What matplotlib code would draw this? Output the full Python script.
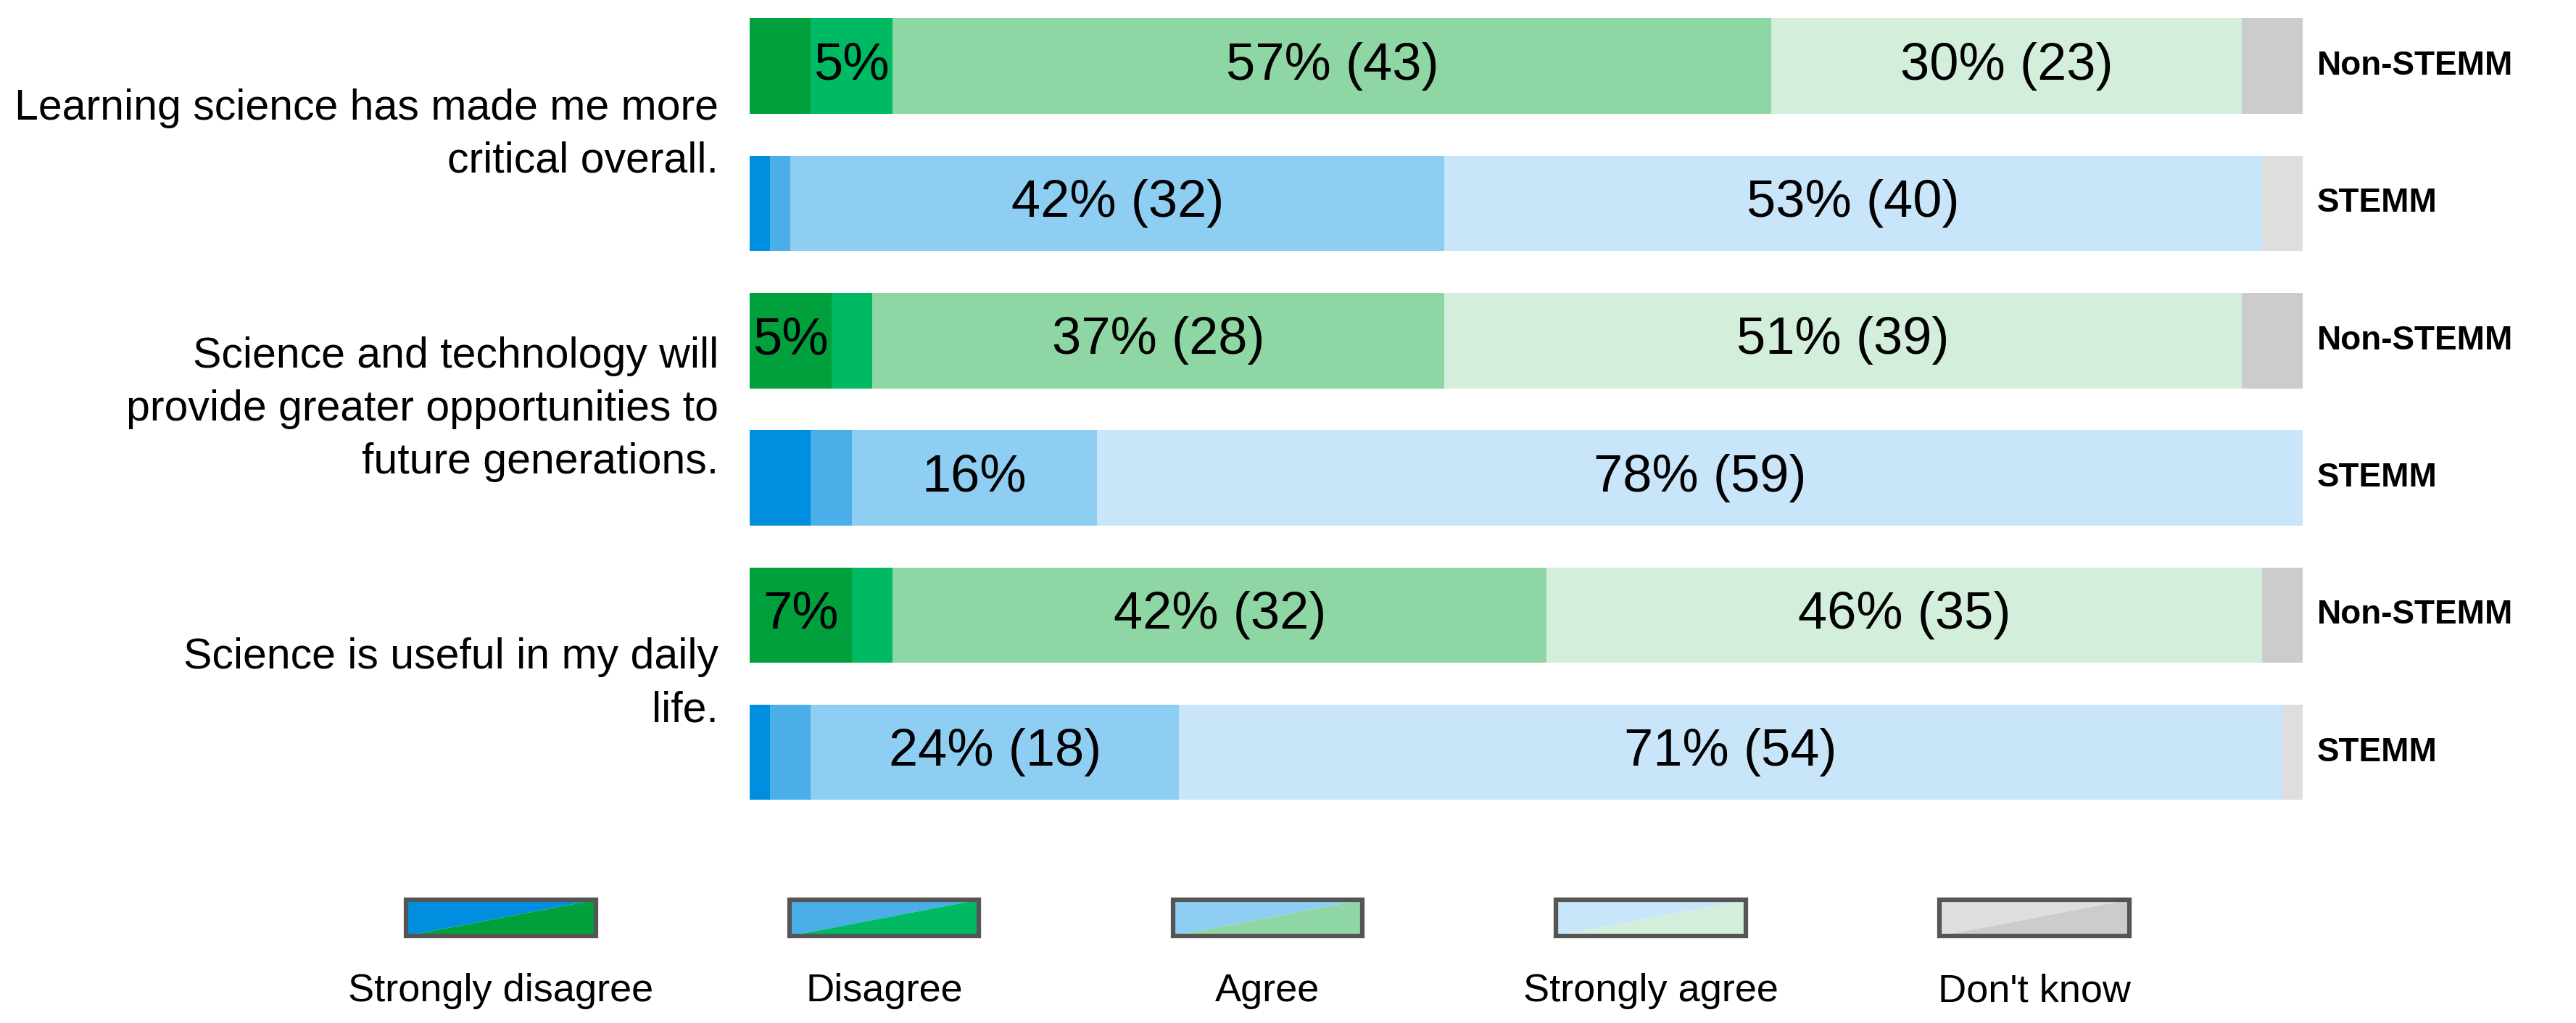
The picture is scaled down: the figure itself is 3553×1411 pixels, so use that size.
import matplotlib
matplotlib.use("Agg")
import matplotlib.pyplot as plt
from matplotlib.patches import Polygon, Rectangle

plt.rcParams["font.family"] = ["Liberation Sans", "DejaVu Sans"]

# survey data (n = 76 per group)
questions = [
    "Learning science has made me more\ncritical overall.",
    "Science and technology will\nprovide greater opportunities to\nfuture generations.",
    "Science is useful in my daily\nlife.",
]
groups = ["Non-STEMM", "STEMM"]
categories = ["Strongly disagree", "Disagree", "Agree", "Strongly agree", "Don't know"]

nonstemm_counts = [
    [3, 4, 43, 23, 3],
    [4, 2, 28, 39, 3],
    [5, 2, 32, 35, 2],
]
stemm_counts = [
    [1, 1, 32, 40, 2],
    [3, 2, 12, 59, 0],
    [1, 2, 18, 54, 1],
]

nonstemm_colors = ["#00A03C", "#00BA63", "#8ED6A3", "#D3EEDB", "#CCCCCC"]
stemm_colors = ["#008FE0", "#4AAEE8", "#8ECEF3", "#C8E5F9", "#DEDEDE"]

fig = plt.figure(figsize=(35.53, 14.11), dpi=100)
ax = fig.add_axes([0.291, 0.218, 0.603, 0.764])

bar_h = 0.695
row = 0
for qi, q in enumerate(questions):
    for g, counts, colors in (
        (groups[0], nonstemm_counts[qi], nonstemm_colors),
        (groups[1], stemm_counts[qi], stemm_colors),
    ):
        total = sum(counts)
        left = 0.0
        for c, col in zip(counts, colors):
            frac = c / total
            ax.barh(row, frac, left=left, height=bar_h, color=col, edgecolor="none")
            pct = round(c / total * 100)
            if pct >= 5:
                label = f"{pct}% ({c})" if pct >= 20 else f"{pct}%"
                ax.text(left + frac / 2, row, label, ha="center", va="center",
                        fontsize=52, color="black")
            left += frac
        ax.text(1.009, row, g, ha="left", va="center", fontsize=33,
                fontweight="bold", transform=ax.get_yaxis_transform())
        row += 1
    # question label centred between its two bars
    ax.text(-0.02, row - 1.5, q, ha="right", va="center", fontsize=42.5,
            linespacing=1.42, transform=ax.get_yaxis_transform())

ax.set_xlim(0, 1)
ax.set_ylim(row - 1 + bar_h / 2, -bar_h / 2)
ax.axis("off")

# legend with diagonally split swatches
lax = fig.add_axes([0, 0, 1, 1], zorder=-1)
lax.set_xlim(0, 1)
lax.set_ylim(0, 1)
lax.axis("off")
box_w, box_h = 0.0736, 0.0354
box_y = 0.1025
for i, cat in enumerate(categories):
    cx = 0.1945 + i * 0.1488
    x0, x1 = cx - box_w / 2, cx + box_w / 2
    y0, y1 = box_y - box_h / 2, box_y + box_h / 2
    lax.add_patch(Polygon([(x0, y0), (x0, y1), (x1, y1)], closed=True,
                          facecolor=stemm_colors[i], edgecolor="none"))
    lax.add_patch(Polygon([(x0, y0), (x1, y0), (x1, y1)], closed=True,
                          facecolor=nonstemm_colors[i], edgecolor="none"))
    lax.add_patch(Rectangle((x0, y0), box_w, box_h, fill=False,
                            edgecolor="#555555", linewidth=4.5))
    lax.text(cx, 0.031, cat, ha="center", va="center", fontsize=39,
             family=["Liberation Sans Narrow", "Liberation Sans", "DejaVu Sans"])

fig.savefig("out.png", dpi=100, facecolor="white")
